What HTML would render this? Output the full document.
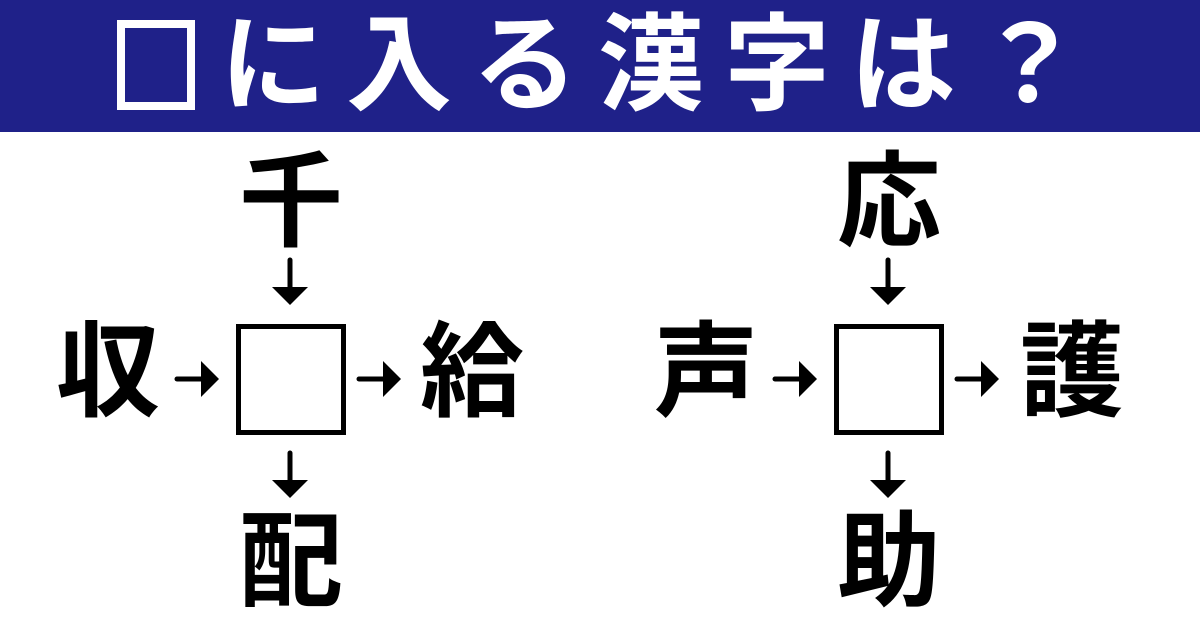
<!DOCTYPE html>
<html><head><meta charset="utf-8"><style>
body{margin:0;width:1200px;height:630px;background:#fff;position:relative;overflow:hidden;font-family:"Liberation Sans","Noto Sans CJK JP",sans-serif}
.band{position:absolute;left:0;top:0;width:1200px;height:132px;background:#1f2189}
.tbox{position:absolute;left:117px;top:20px;width:62px;height:74px;border:8px solid #fff}
.title{position:absolute;left:220px;top:4px;font-size:106px;line-height:124px;color:#fff;font-weight:bold;letter-spacing:20px;white-space:nowrap}
.k{position:absolute;width:140px;text-align:center;font-size:104px;line-height:110px;font-weight:bold;color:#000}
.box{position:absolute;width:100px;height:101px;border:5px solid #000}
</style></head><body>
<div class="band"></div>
<div class="tbox"></div>
<div class="title">に入る漢字は？</div>

<div class="k" style="left:221px;top:148px">千</div>
<div class="k" style="left:38px;top:318px">収</div>
<div class="k" style="left:402px;top:318px">給</div>
<div class="k" style="left:221px;top:508px">配</div>
<div class="box" style="left:236px;top:324px"></div>

<div class="k" style="left:819px;top:148px">応</div>
<div class="k" style="left:636px;top:318px">声</div>
<div class="k" style="left:1002px;top:318px">護</div>
<div class="k" style="left:819px;top:508px">助</div>
<div class="box" style="left:834px;top:324px"></div>

<svg width="1200" height="630" style="position:absolute;left:0;top:0">
<defs>
<g id="ar">
<line x1="0" y1="0" x2="0" y2="28" stroke="#000" stroke-width="5" stroke-linecap="round"/>
<polygon points="-18,27 18,27 0,45" fill="#000"/>
</g>
<g id="ah">
<line x1="0" y1="0" x2="26" y2="0" stroke="#000" stroke-width="5" stroke-linecap="round"/>
<polygon points="24,-18 24,18 42,0" fill="#000"/>
</g>
</defs>
<use href="#ar" x="290" y="260"/>
<use href="#ar" x="290" y="453"/>
<use href="#ah" x="177" y="379"/>
<use href="#ah" x="359" y="379"/>
<use href="#ar" x="888" y="260"/>
<use href="#ar" x="888" y="453"/>
<use href="#ah" x="775" y="379"/>
<use href="#ah" x="957" y="379"/>
</svg>
</body></html>
